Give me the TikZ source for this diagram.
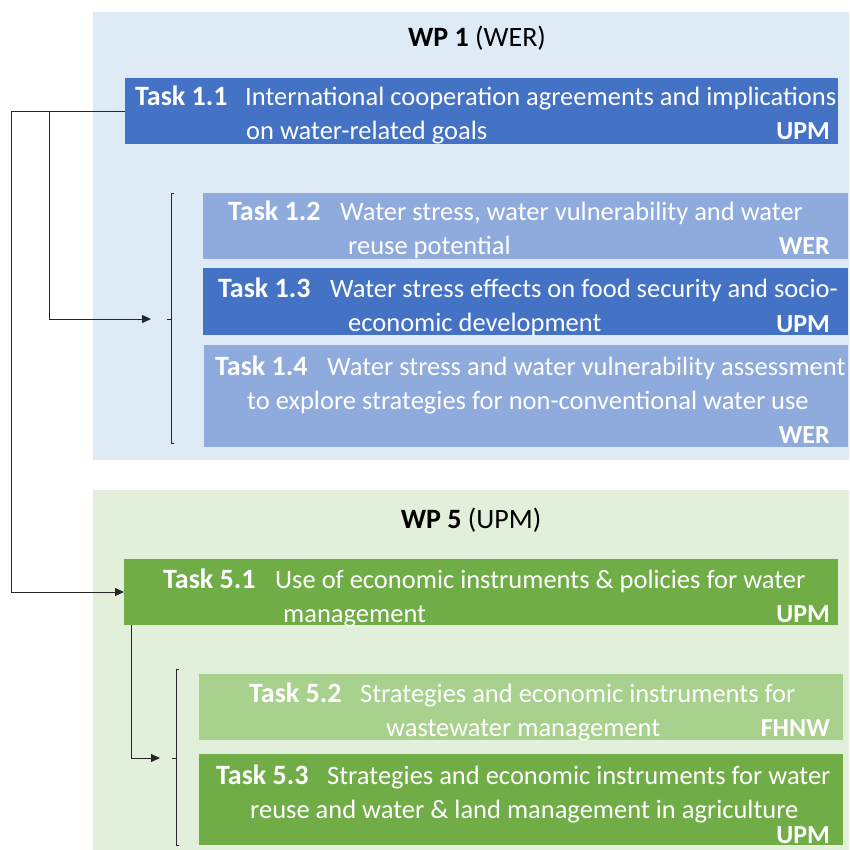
\documentclass[tikz,border=0pt]{standalone}
\usepackage{fontspec}
\setmainfont{Carlito}
\usetikzlibrary{arrows.meta}
\definecolor{bgblue}{RGB}{222,235,247}
\definecolor{dblue}{RGB}{68,114,196}
\definecolor{lblue}{RGB}{143,170,220}
\definecolor{bggreen}{RGB}{226,239,218}
\definecolor{dgreen}{RGB}{112,173,71}
\definecolor{lgreen}{RGB}{169,209,142}
\begin{document}
\begin{tikzpicture}[x=1pt,y=-1pt,
  area/.style={draw=none, inner sep=0, outer sep=0},
  taskbox/.style={draw=none, inner sep=0, outer sep=0},
  lbl/.style={anchor=base west, inner sep=0, text=white, font=\fontsize{28}{32}\selectfont\bfseries},
  txt/.style={anchor=base west, inner sep=0, text=white, font=\fontsize{26.5}{30}\selectfont},
  who/.style={anchor=base east, inner sep=0, text=white, font=\fontsize{26}{30}\selectfont\bfseries},
  wptitle/.style={inner sep=0, text=black, font=\fontsize{28}{32}\selectfont},
  conn/.style={draw=black!85, line width=0.8pt},
  arr/.style={conn, -{Triangle[length=9pt,width=8pt]}},
  brace/.style={draw=black!85, line width=0.8pt}
]
\useasboundingbox (0,0) rectangle (849,850);
% backgrounds
\node[area, fill=bgblue, minimum width=756pt, minimum height=448pt, anchor=north west] (wp1) at (93,12) {};
\node[area, fill=bggreen, minimum width=756pt, minimum height=360pt, anchor=north west] (wp5) at (93,490) {};
\node[wptitle] (wp1t) at (477,38) {\textbf{WP 1} (WER)};
\node[wptitle] (wp5t) at (471,520) {\textbf{WP 5} (UPM)};
% task boxes
\node[taskbox, fill=dblue, minimum width=713pt, minimum height=66pt, anchor=north west] (t11) at (125,78) {};
\node[taskbox, fill=lblue, minimum width=645pt, minimum height=66pt, anchor=north west] (t12) at (203,193) {};
\node[taskbox, fill=dblue, minimum width=645pt, minimum height=67pt, anchor=north west] (t13) at (203,268) {};
\node[taskbox, fill=lblue, minimum width=644pt, minimum height=102pt, anchor=north west] (t14) at (204,345) {};
\node[taskbox, fill=dgreen, minimum width=714pt, minimum height=66pt, anchor=north west] (t51) at (124,559) {};
\node[taskbox, fill=lgreen, minimum width=644pt, minimum height=66pt, anchor=north west] (t52) at (199,674) {};
\node[taskbox, fill=dgreen, minimum width=644pt, minimum height=91pt, anchor=north west] (t53) at (199,754) {};
% texts
\node[lbl] (l11) at (135,106) {Task 1.1};
\node[txt] (a11) at (245,106) {International cooperation agreements and implications};
\node[txt] (b11) at (246,140) {on water-related goals};
\node[who] (w11) at (830,140) {UPM};
\node[lbl] (l12) at (228,220) {Task 1.2};
\node[txt] (a12) at (340,220) {Water stress, water vulnerability and water};
\node[txt] (b12) at (348,254) {reuse potential};
\node[who] (w12) at (830,254) {WER};
\node[lbl] (l13) at (218,297) {Task 1.3};
\node[txt] (a13) at (330,297) {Water stress effects on food security and socio-};
\node[txt] (b13) at (348,331) {economic development};
\node[who] (w13) at (830,332) {UPM};
\node[lbl] (l14) at (215,375) {Task 1.4};
\node[txt] (a14) at (327,375) {Water stress and water vulnerability assessment};
\node[txt] (b14) at (247,409) {to explore strategies for non-conventional water use};
\node[who] (w14) at (830,443) {WER};
\node[lbl] (l51) at (163,588) {Task 5.1};
\node[txt] (a51) at (275,588) {Use of economic instruments \& policies for water};
\node[txt] (b51) at (283,622) {management};
\node[who] (w51) at (830,622) {UPM};
\node[lbl] (l52) at (249,702) {Task 5.2};
\node[txt] (a52) at (360,702) {Strategies and economic instruments for};
\node[txt] (b52) at (386,736) {wastewater management};
\node[who] (w52) at (830,736) {FHNW};
\node[lbl] (l53) at (216,784) {Task 5.3};
\node[txt] (a53) at (327,784) {Strategies and economic instruments for water};
\node[txt] (b53) at (250,818) {reuse and water \& land management in agriculture};
\node[who] (w53) at (830,843) {UPM};
% braces
\coordinate (b1t) at (171,193);
\coordinate (b1b) at (171,443);
\coordinate (b1m) at (171,319);
\coordinate (b1e) at (151,319);
\draw[brace] ([xshift=3pt]b1t) -- (b1t) -- (b1b) -- ([xshift=3pt]b1b);
\draw[brace] (b1m) -- ([xshift=-4pt]b1m);
\coordinate (b2t) at (176,669);
\coordinate (b2b) at (176,845);
\coordinate (b2m) at (176,758);
\coordinate (b2e) at (160,758);
\draw[brace] ([xshift=3pt]b2t) -- (b2t) -- (b2b) -- ([xshift=3pt]b2b);
\draw[brace] (b2m) -- ([xshift=-4pt]b2m);
% connectors
\coordinate (c1) at (11,111);
\coordinate (c2) at (49,111);
\draw[conn] (t11.west) -- (c1);
\draw[arr] (c1) -- (c1 |- t51.west) -- (t51.west);
\draw[arr] (c2) -- (c2 |- b1e) -- (b1e);
\coordinate (c3) at (131,625);
\draw[arr] (c3) -- (c3 |- b2e) -- (b2e);
\end{tikzpicture}
\end{document}
